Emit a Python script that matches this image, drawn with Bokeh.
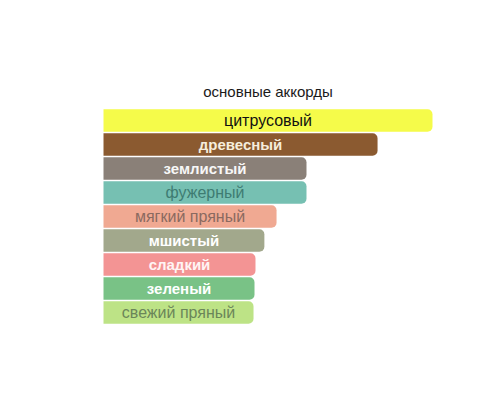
from bokeh.plotting import figure
from bokeh.models import ColumnDataSource, Range1d
from bokeh.core.properties import value
from bokeh.embed import file_html
from bokeh.resources import INLINE

title_text = "основные аккорды"
categories = ["цитрусовый", "древесный", "землистый", "фужерный", "мягкий пряный",
              "мшистый", "сладкий", "зеленый", "свежий пряный"]
values = [100, 83.3, 61.7, 61.7, 52.6, 48.9, 46.2, 45.9, 45.6]
bar_colors = ["#f5fb4a", "#8b5a30", "#8a8078", "#76c0b2", "#f0a992",
              "#a2a88c", "#f39494", "#79c286", "#bde386"]
label_colors = ["#111111", "#f6eddc", "#f7f7f7", "#3e7c72", "#8a6a60",
                "#ffffff", "#fff4f4", "#ffffff", "#6b8659"]
label_weights = ["normal", "bold", "bold", "normal", "normal",
                 "bold", "bold", "bold", "normal"]

n = len(categories)
pos = list(range(n))
sizes = ["15px" if w == "bold" else "16px" for w in label_weights]
src = ColumnDataSource(dict(
    y=pos, right=values, mid=[v / 2 for v in values], cat=categories,
    color=bar_colors, tcolor=label_colors, weight=label_weights, size=sizes,
))

W, H = 484, 384
px_per_unit = 3.29
left_px = 103
top_px = 120
row_px = 24

p = figure(width=W, height=H, output_backend="svg", toolbar_location=None,
           x_range=Range1d(-left_px / px_per_unit, (W - left_px) / px_per_unit),
           y_range=Range1d((H - top_px) / row_px, -top_px / row_px),
           min_border=0, outline_line_color=None,
           background_fill_color="white", border_fill_color="white")
p.axis.visible = False
p.grid.visible = False

p.hbar(y="y", left=0, right="right", height=0.94, fill_color="color",
       line_color=None, border_radius=(0, 5, 5, 0), source=src)

p.text(x="mid", y="y", text="cat", text_color="tcolor", text_font_style="weight",
       text_font=value("Liberation Sans"), text_font_size="size",
       text_align="center", text_baseline="middle", source=src)

p.text(x=[values[0] / 2], y=[-1.2], text=[title_text], text_color="#1a1a1a",
       text_font=value("Liberation Sans"), text_font_size="15px",
       text_align="center", text_baseline="middle")

open("out.html", "w").write(file_html(p, INLINE))
